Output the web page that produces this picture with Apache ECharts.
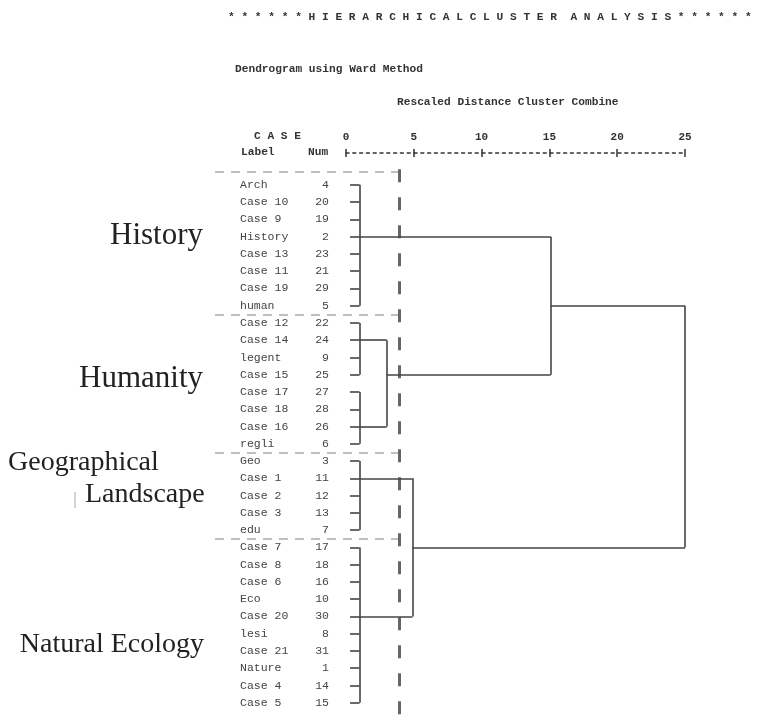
<!DOCTYPE html>
<html>
<head>
<meta charset="utf-8">
<title>Hierarchical Cluster Analysis</title>
<script src="https://cdn.jsdelivr.net/npm/echarts@6/dist/echarts.min.js"></script>
<style>
    html, body {margin: 0; padding: 0; background: #fff;}
    #chart_dendro {width: 768px; height: 720px;}
</style>
</head>
<body>
<div id="chart_dendro"></div>
<script>
/*叶子节点（自上而下）*/
var leafNames = ['Arch', 'Case 10', 'Case 9', 'History', 'Case 13', 'Case 11', 'Case 19', 'human',
    'Case 12', 'Case 14', 'legent', 'Case 15', 'Case 17', 'Case 18', 'Case 16', 'regli',
    'Geo', 'Case 1', 'Case 2', 'Case 3', 'edu',
    'Case 7', 'Case 8', 'Case 6', 'Eco', 'Case 20', 'lesi', 'Case 21', 'Nature', 'Case 4', 'Case 5'];
var leafNums = [4, 20, 19, 2, 23, 21, 29, 5,
    22, 24, 9, 25, 27, 28, 26, 6,
    3, 11, 12, 13, 7,
    17, 18, 16, 10, 30, 8, 31, 1, 14, 15];
/*第一层聚类：起止行、代表行、合并距离*/
var groupFirst = [0, 8, 12, 16, 21];
var groupLast = [7, 11, 15, 20, 30];
var groupRep = [3, 9, 14, 17, 25];
var groupDist = [1, 1, 1, 1, 1];
/*后续合并：新类编号 = 5 + 序号*/
var mergeA = [1, 3, 0, 7];
var mergeB = [2, 4, 5, 6];
var mergeDist = [3.0, 4.9, 15.1, 25];
/*刻度与分割*/
var distTicks = [0, 5, 10, 15, 20, 25];
var cutDist = 3.9;
var sepRows = [-0.75, 7.5, 15.5, 20.5];
var groupNames = ['History', 'Humanity', 'Geographical', 'Landscape', 'Natural Ecology'];

var MONO = '"Liberation Mono", "DejaVu Sans Mono", monospace';
var SERIF = '"Liberation Serif", "DejaVu Serif", serif';
var STUB = 0.3;

/*树的线段*/
var segs = [];
var clRow = [], clDist = [];
for (var g = 0; g < groupFirst.length; g++) {
    for (var r = groupFirst[g]; r <= groupLast[g]; r++) {
        segs.push({coords: [[STUB, r], [groupDist[g], r]]});
    }
    segs.push({coords: [[groupDist[g], groupFirst[g]], [groupDist[g], groupLast[g]]]});
    clRow.push(groupRep[g]);
    clDist.push(groupDist[g]);
}
for (var m = 0; m < mergeA.length; m++) {
    var a = mergeA[m], b = mergeB[m], d = mergeDist[m];
    segs.push({coords: [[clDist[a], clRow[a]], [d, clRow[a]]]});
    segs.push({coords: [[clDist[b], clRow[b]], [d, clRow[b]]]});
    segs.push({coords: [[d, clRow[a]], [d, clRow[b]]]});
    clRow.push(Math.floor((clRow[a] + clRow[b]) / 2));
    clDist.push(d);
}
var seps = sepRows.map(function (y) {
    return {coords: [[-9.66, y], [cutDist, y]]};
});
var cut = [{coords: [[cutDist, -0.9], [cutDist, 31]]}];

function headText(x, y, txt) {
    return {
        type: 'text', left: x, top: y,
        style: {text: txt, font: 'bold 11.2px ' + MONO, fill: '#333'}
    };
}
function groupText(x, y, txt, size, align) {
    return {
        type: 'text', x: x, y: y,
        style: {text: txt, font: size + 'px ' + SERIF, fill: '#222', align: align, verticalAlign: 'middle'}
    };
}

var mychart = echarts.init(document.getElementById('chart_dendro'));
mychart.setOption({
    animation: false,
    title: {
        text: '* * * * * * H I E R A R C H I C A L C L U S T E R  A N A L Y S I S * * * * * *',
        left: 228,
        top: 12,
        padding: 0,
        textStyle: {fontFamily: MONO, fontSize: 11.2, fontWeight: 'bold', color: '#333'}
    },
    graphic: [
        headText(235, 64, 'Dendrogram using Ward Method'),
        headText(397, 97, 'Rescaled Distance Cluster Combine'),
        headText(254, 131, 'C A S E'),
        headText(241, 147, 'Label'),
        headText(308, 147, 'Num'),
        groupText(203, 236, groupNames[0], 31, 'right'),
        groupText(203, 379, groupNames[1], 31, 'right'),
        groupText(8, 463, groupNames[2], 28, 'left'),
        groupText(85, 495, groupNames[3], 28, 'left'),
        groupText(204, 645, groupNames[4], 28, 'right'),
        {type: 'line', shape: {x1: 75, y1: 492, x2: 75, y2: 508}, style: {stroke: '#aaa', lineWidth: 1}}
    ],
    grid: {left: 346, width: 339, top: 167.6, height: 556.8},
    xAxis: [{
        type: 'value',
        position: 'top',
        offset: 14.6,
        min: distTicks[0],
        max: distTicks[distTicks.length - 1],
        interval: distTicks[1] - distTicks[0],
        axisLine: {onZero: false, lineStyle: {color: '#333', width: 1.5, type: [3, 3.8]}},
        axisTick: {length: 4, lineStyle: {color: '#333', width: 1.5}},
        axisLabel: {margin: 10, fontFamily: MONO, fontSize: 11, fontWeight: 'bold', color: '#333'},
        splitLine: {show: false}
    }, {
        type: 'value',
        position: 'top',
        offset: 14.6,
        min: distTicks[0],
        max: distTicks[distTicks.length - 1],
        interval: distTicks[1] - distTicks[0],
        axisLine: {show: false, onZero: false},
        axisTick: {inside: true, length: 4, lineStyle: {color: '#333', width: 1.5}},
        axisLabel: {show: false},
        splitLine: {show: false}
    }],
    yAxis: {
        type: 'value',
        inverse: true,
        min: -1,
        max: 31,
        interval: 1,
        axisLine: {show: false},
        axisTick: {show: false},
        splitLine: {show: false},
        axisLabel: {
            align: 'left',
            margin: 106,
            formatter: function (v) {
                if (v < 0 || v >= leafNames.length) return '';
                return '{a|' + leafNames[v] + '}{b|' + leafNums[v] + '}';
            },
            rich: {
                a: {width: 62, align: 'left', fontFamily: MONO, fontSize: 11.5, color: '#444'},
                b: {width: 27, align: 'right', fontFamily: MONO, fontSize: 11.5, color: '#444'}
            }
        }
    },
    series: [{
        type: 'lines',
        coordinateSystem: 'cartesian2d',
        silent: true,
        clip: false,
        lineStyle: {color: '#aaa', width: 1.5, type: [9, 7], opacity: 1},
        data: seps
    }, {
        type: 'lines',
        coordinateSystem: 'cartesian2d',
        silent: true,
        clip: false,
        lineStyle: {color: '#666', width: 3, type: [13, 15], opacity: 1},
        data: cut
    }, {
        type: 'lines',
        coordinateSystem: 'cartesian2d',
        silent: true,
        clip: false,
        lineStyle: {color: '#444', width: 1.6, opacity: 1},
        data: segs
    }]
});
</script>
</body>
</html>
